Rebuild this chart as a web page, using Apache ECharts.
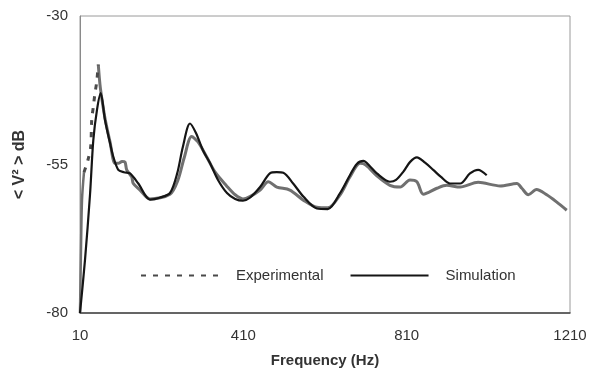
<!DOCTYPE html>
<html>
<head>
<meta charset="utf-8">
<script src="https://cdn.jsdelivr.net/npm/echarts@6/dist/echarts.min.js"></script>
<style>
  html, body { margin: 0; padding: 0; background: #fff; }
  #chart { width: 592px; height: 372px; }
</style>
</head>
<body>
<div id="chart"></div>
<script>
// frequency (Hz) / level (dB)
const expFreq = [10, 12.4, 14.9, 19.8, 29.6, 36.2, 38.7, 42.6, 46.7, 50.9, 54.8,
  59, 63.9, 71.2, 83.5, 95.7, 103.8, 112.9, 120.2, 124.4, 136.6, 140.5, 157, 181.4,
  230.4, 250, 265, 283.5, 299, 320, 341, 369, 390, 409, 426, 451, 471, 492, 524,
  557, 590, 617, 647, 671, 696, 710, 737, 769, 794, 818, 835, 851, 884, 908, 941,
  985, 1039, 1080, 1092, 1108, 1128, 1153, 1177, 1202];
const expDb = [-80, -69.4, -61, -56.3, -54.2, -52, -47.5, -45.3, -43, -41.1, -38.2,
  -41.6, -44.1, -47.2, -51.2, -54.8, -54.8, -54.5, -54.6, -55.9, -57.1, -58.2, -59.3, -60.8,
  -60.0, -57.6, -53.9, -50.3, -51.2, -53.7, -56.3, -58.6, -60.1, -60.8, -60.4, -59.3, -57.9, -58.8, -59.3,
  -61.0, -62.2, -62.3, -60.1, -57.1, -54.8, -55.1, -56.9, -58.5, -58.8, -57.6, -57.9, -60.0, -59.0, -58.5, -58.8,
  -58.0, -58.6, -58.2, -59.0, -60.1, -59.2, -60.1, -61.3, -62.7];
// dashed between these two points, solid grey elsewhere
const expDashFrom = 3;
const expDashTo = 10;

const simFreq = [10, 22.2, 34.5, 42.6, 51.6, 60.7, 71.2, 83.5, 91.6, 103.8, 117.8,
  132.5, 152.8, 181.4, 205, 230.4, 248, 262, 279.4, 294, 311, 328, 348, 370, 390,
  409, 426, 451, 475, 492, 508, 532, 557, 590, 617, 647, 671, 688, 704, 720, 737,
  769, 784, 802, 818, 835, 855, 875, 894, 916, 941, 965, 985, 1006];
const simDb = [-80, -71.1, -60.1, -50.9, -45.8, -43.0, -47.5, -51.4, -53.7, -55.9, -56.3,
  -56.5, -58.2, -60.9, -60.6, -59.8, -56.5, -52.0, -48.1, -49.7, -52.6, -54.7, -57.6, -59.8, -60.8,
  -61.1, -60.6, -58.8, -56.5, -56.3, -56.4, -58.2, -60.4, -62.4, -62.5, -59.8, -56.8, -54.9, -54.4, -55.3, -56.5,
  -57.9, -57.6, -56.2, -54.6, -53.8, -54.7, -55.9, -57.1, -58.2, -58.2, -56.5, -55.9, -56.8];

const xTicks = [10, 410, 810, 1210];
const yTicks = [-80, -55, -30];

const toPairs = (xs, ys) => xs.map((x, i) => [x, ys[i]]);
const expPairs = toPairs(expFreq, expDb);

const fontFamily = '"Liberation Sans", Arial, sans-serif';
const expGrey = '#707070';
const expDark = '#4a4a4a';
const simBlack = '#151515';

const chart = echarts.init(document.getElementById('chart'));

const option = {
  animation: false,
  textStyle: { fontFamily: fontFamily },
  grid: {
    left: 80,
    right: 22,
    top: 16,
    bottom: 59,
    outerBoundsMode: 'none',
    show: true,
    borderColor: '#9a9a9a',
    borderWidth: 1
  },
  legend: {
    data: ['Experimental', 'Simulation'],
    left: 140,
    top: 268,
    padding: 0,
    itemWidth: 78,
    itemHeight: 14,
    itemGap: 26,
    itemStyle: { opacity: 0 },
    textStyle: {
      color: '#333',
      fontSize: 15,
      fontFamily: fontFamily,
      padding: [0, 0, 0, 12]
    }
  },
  xAxis: {
    type: 'value',
    min: 10,
    max: 1210,
    name: 'Frequency (Hz)',
    nameLocation: 'middle',
    nameGap: 40,
    nameTextStyle: { color: '#333', fontSize: 15, fontWeight: 'bold', fontFamily: fontFamily },
    axisLine: { show: true, lineStyle: { color: '#444', width: 1.5 } },
    axisTick: { show: false },
    splitLine: { show: false },
    axisLabel: {
      customValues: xTicks,
      formatter: (v) => String(v),
      color: '#333',
      fontSize: 15,
      margin: 15,
      fontFamily: fontFamily
    }
  },
  yAxis: {
    type: 'value',
    min: -80,
    max: -30,
    name: '< V² > dB',
    nameLocation: 'middle',
    nameGap: 52,
    nameTextStyle: { color: '#333', fontSize: 16, fontWeight: 'bold', fontFamily: fontFamily },
    axisLine: { show: true, lineStyle: { color: '#8a8a8a', width: 1 } },
    axisTick: { show: false },
    splitLine: { show: false },
    axisLabel: {
      customValues: yTicks,
      formatter: (v) => String(v),
      color: '#333',
      fontSize: 15,
      margin: 12,
      fontFamily: fontFamily
    }
  },
  series: [
    {
      name: 'Experimental',
      type: 'line',
      symbol: 'none',
      smooth: 0.3,
      data: expPairs.slice(expDashFrom, expDashTo + 1),
      itemStyle: { color: expDark },
      lineStyle: { color: expDark, width: 3, type: [5, 7] },
      z: 3
    },
    {
      name: 'Experimental',
      type: 'line',
      symbol: 'none',
      smooth: 0.3,
      data: expPairs.slice(0, expDashFrom + 1),
      itemStyle: { color: expGrey },
      lineStyle: { color: expGrey, width: 2.5 },
      z: 2
    },
    {
      name: 'Experimental',
      type: 'line',
      symbol: 'none',
      smooth: 0.3,
      data: expPairs.slice(expDashTo),
      itemStyle: { color: expGrey },
      lineStyle: { color: expGrey, width: 3 },
      z: 2
    },
    {
      name: 'Simulation',
      type: 'line',
      symbol: 'none',
      smooth: 0.3,
      data: toPairs(simFreq, simDb),
      itemStyle: { color: simBlack },
      lineStyle: { color: simBlack, width: 2.2 },
      z: 4
    }
  ]
};

chart.setOption(option);
</script>
</body>
</html>
